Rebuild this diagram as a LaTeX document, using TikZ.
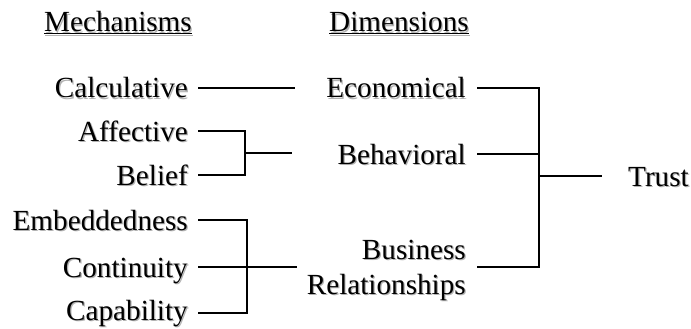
\documentclass[tikz,border=0pt]{standalone}
\usepackage{fontspec}
\setmainfont{Liberation Serif}
\usepackage{tikz}
\usetikzlibrary{positioning,calc}
% soft grey copy behind each label
\newcommand{\shadowed}[1]{\rlap{\hspace{1.2pt}\raisebox{-1.2pt}{\color{black!30}#1}}#1}
\tikzset{lbl/.style={inner sep=0pt, text height=20pt, text depth=0pt},
  link/.style={line width=2pt}}

\begin{document}
\begin{tikzpicture}[x=1pt,y=-1pt,font=\fontsize{29.2}{35}\selectfont]
\useasboundingbox (0,0) rectangle (691,329);
% headings
\node[anchor=base west, inner sep=0pt] (mech) at (44,32) {\shadowed{\underline{Mechanisms}}};
\node[anchor=base west, inner sep=0pt] (dim) at (329,32) {\shadowed{\underline{Dimensions}}};
% mechanisms
\node[lbl, anchor=east] (calc) at (188,88) {\shadowed{Calculative}};
\node[lbl, anchor=east] (aff) at (188,131) {\shadowed{Affective}};
\node[lbl, anchor=east] (bel) at (188,175) {\shadowed{Belief}};
\node[lbl, anchor=east] (emb) at (188,220) {\shadowed{Embeddedness}};
\node[lbl, anchor=east] (cont) at (188,267) {\shadowed{Continuity}};
\node[lbl, anchor=east] (cap) at (188,310) {\shadowed{Capability}};
% dimensions
\node[lbl, anchor=east] (econ) at (466,88) {\shadowed{Economical}};
\node[lbl, anchor=east] (behav) at (466,154) {\shadowed{Behavioral}};
\node[anchor=east, inner sep=0pt, align=right] (busi) at (466,271) {\shadowed{Business}~\\\shadowed{Relationships}};
\node[lbl, anchor=west] (trust) at (628,176) {\shadowed{Trust}};
% joints and free ends
\coordinate (calcend) at (295,88);
\coordinate (jA) at (245,153);
\coordinate (jAend) at (292,153);
\coordinate (jB) at (247,267);
\coordinate (jBend) at (297,267);
\coordinate (jC) at (539,176);
% mechanisms -> dimensions
\draw[link] ([xshift=10pt]calc.east) -- (calcend);
\draw[link] ([xshift=10pt]aff.east) -| (jA) |- ([xshift=10pt]bel.east);
\draw[link] (jA) -- (jAend);
\draw[link] ([xshift=10pt]emb.east) -| (jB) |- ([xshift=10pt,yshift=-3pt]cap.east);
\draw[link] ([xshift=10pt]cont.east) -- (jB) -- (jBend);
% dimensions -> trust
\draw[link] ([xshift=11pt]econ.east) -| (jC) |- ([xshift=11pt,yshift=4pt]busi.east);
\draw[link] ([xshift=11pt]behav.east) -- (jC |- behav.east);
\draw[link] (jC) -- ([xshift=-26pt]trust.west);
\end{tikzpicture}
\end{document}
